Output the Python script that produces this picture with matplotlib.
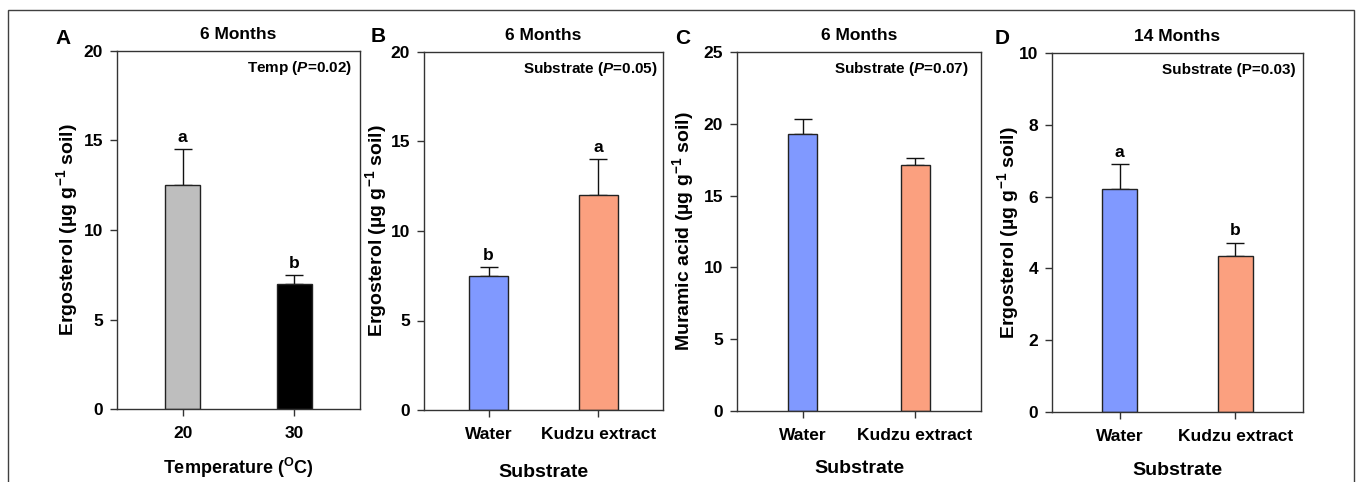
import matplotlib
matplotlib.use("Agg")
import matplotlib.pyplot as plt
from matplotlib.patches import Rectangle

plt.rcParams["font.family"] = ["Liberation Sans", "DejaVu Sans"]
plt.rcParams["font.weight"] = "bold"
plt.rcParams["mathtext.fontset"] = "custom"
plt.rcParams["mathtext.default"] = "regular"
plt.rcParams["mathtext.it"] = "Liberation Sans:italic:bold"
plt.rcParams["mathtext.rm"] = "Liberation Sans:bold"

# Data

temp_labels = ["20", "30"]
temp_means = [12.5, 7.0]
temp_errs = [2.0, 0.5]
temp_sig = ["a", "b"]

subst_labels = ["Water", "Kudzu extract"]

ergo6_means = [7.5, 12.0]
ergo6_errs = [0.5, 2.0]
ergo6_sig = ["b", "a"]

mura6_means = [19.3, 17.1]
mura6_errs = [1.0, 0.5]

ergo14_means = [6.2, 4.35]
ergo14_errs = [0.7, 0.37]
ergo14_sig = ["a", "b"]

gray, black = "#bebebe", "#000000"
blue, salmon = "#8099ff", "#fba07f"

W, H = 1357, 482
fig = plt.figure(figsize=(W / 100, H / 100), dpi=100)

# outer frame
fig.patches.append(Rectangle((8 / W, -0.1), (1354 - 8) / W, 1.1 - 10 / H,
                             transform=fig.transFigure, fill=False,
                             edgecolor="#404040", linewidth=1.0))


def make_axes(l, r, t, b):
    return fig.add_axes([l / W, 1 - b / H, (r - l) / W, (b - t) / H])


ergo_label = "Ergosterol (µg g$^{-1}$ soil)"

panels = [
    dict(box=(117, 360, 51, 409), labels=temp_labels, means=temp_means,
         errs=temp_errs, sig=temp_sig, colors=[gray, black], width=0.31,
         ylim=20, yticks=[0, 5, 10, 15, 20], ylabel=ergo_label, ylx=-0.206,
         xlabel="Temperature ($^{O}$C)", xly=-0.165, xlsize=13,
         title="6 Months", note="Temp ($\\mathit{P}$=0.02)", nx=0.967,
         letter="A", lpos=(63, 38)),
    dict(box=(424, 663, 52, 410), labels=subst_labels, means=ergo6_means,
         errs=ergo6_errs, sig=ergo6_sig, colors=[blue, salmon], width=0.36,
         ylim=20, yticks=[0, 5, 10, 15, 20], ylabel=ergo_label, ylx=-0.2,
         xlabel="Substrate", xly=-0.175, xlsize=14,
         title="6 Months", note="Substrate ($\\mathit{P}$=0.05)", nx=0.978,
         letter="B", lpos=(378, 37)),
    dict(box=(737, 981, 52, 411), labels=subst_labels, means=mura6_means,
         errs=mura6_errs, sig=None, colors=[blue, salmon], width=0.26,
         ylim=25, yticks=[0, 5, 10, 15, 20, 25],
         ylabel="Muramic acid (µg g$^{\\mathregular{-1}}$ soil)", ylx=-0.221,
         xlabel="Substrate", xly=-0.159, xlsize=14,
         title="6 Months", note="Substrate ($\\mathit{P}$=0.07)", nx=0.951,
         letter="C", lpos=(683, 38)),
    dict(box=(1052, 1303, 53, 412), labels=subst_labels, means=ergo14_means,
         errs=ergo14_errs, sig=ergo14_sig, colors=[blue, salmon], width=0.30,
         ylim=10, yticks=[0, 2, 4, 6, 8, 10], ylabel=ergo_label, ylx=-0.175,
         xlabel="Substrate", xly=-0.162, xlsize=14,
         title="14 Months", note="Substrate (P=0.03)", nx=0.971,
         letter="D", lpos=(1002, 38)),
]

for p in panels:
    ax = make_axes(*p["box"])
    x = range(len(p["means"]))
    ax.bar(x, p["means"], width=p["width"], color=p["colors"],
           edgecolor="#222222", linewidth=1.0, zorder=2)
    ax.errorbar(x, p["means"], yerr=[[0] * len(p["errs"]), p["errs"]],
                fmt="none", ecolor="#111111", elinewidth=1.0, capsize=6.5,
                capthick=1.0, zorder=1)
    if p["sig"]:
        for xi, m, e, s in zip(x, p["means"], p["errs"], p["sig"]):
            ax.annotate(s, (xi, m + e), xytext=(0, 3), textcoords="offset points",
                        ha="center", va="bottom", fontsize=12.5, fontweight="bold")

    ax.set_xlim(-0.587, 1.587)
    ax.set_ylim(0, p["ylim"])
    ax.set_yticks(p["yticks"])
    ax.set_xticks(list(x))
    ax.set_xticklabels(p["labels"])
    ax.tick_params(direction="out", length=5, width=1, color="#333333",
                   labelsize=12.5, pad=5)
    ax.tick_params(axis="x", pad=7)
    for sp in ax.spines.values():
        sp.set_color("#333333")
        sp.set_linewidth(1.0)

    ax.set_ylabel(p["ylabel"], fontsize=14, fontweight="bold", va="center")
    ax.yaxis.set_label_coords(p["ylx"], 0.5)
    ax.set_xlabel(p["xlabel"], fontsize=p["xlsize"], fontweight="bold", va="center")
    ax.xaxis.set_label_coords(0.5, p["xly"])

    ax.text(0.5, 1.045, p["title"], transform=ax.transAxes, ha="center",
            va="center", fontsize=12.5, fontweight="bold")
    ax.text(p["nx"], 0.952, p["note"], transform=ax.transAxes, ha="right",
            va="center", fontsize=11, fontweight="bold")
    fig.text(p["lpos"][0] / W, 1 - p["lpos"][1] / H, p["letter"], ha="center",
             va="center", fontsize=15, fontweight="bold")

fig.savefig("out.png", dpi=100)
